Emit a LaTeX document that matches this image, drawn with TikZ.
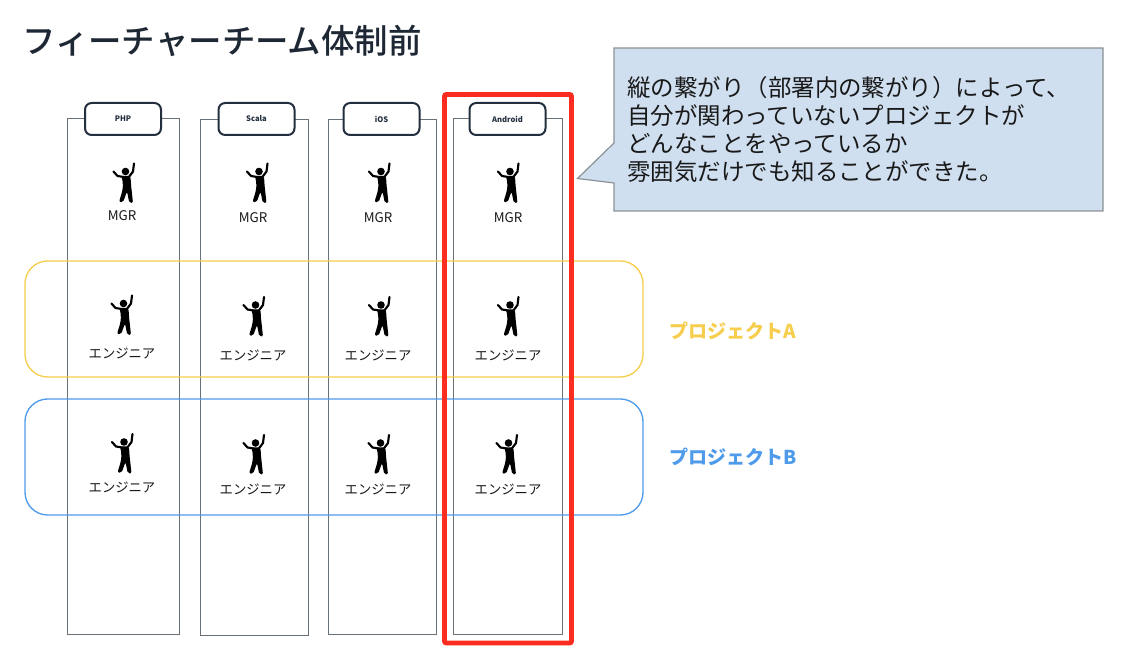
\documentclass[tikz,border=0pt]{standalone}
\usepackage{fontspec}
\setmainfont{Noto Sans CJK JP}
\newfontfamily\titlefont{Noto Sans CJK JP Medium}
\definecolor{navy}{HTML}{232F3E}
\definecolor{colline}{HTML}{687078}
\definecolor{projA}{HTML}{F6CD4C}
\definecolor{projB}{HTML}{4F9BEB}
\definecolor{notefill}{HTML}{CFDFF0}
\definecolor{noteline}{HTML}{8C9196}
\definecolor{alert}{HTML}{FB2C20}
\tikzset{
  dancer/.pic={
    \fill[black] (0,0) circle (3.8);
    \draw[line width=1.6pt,line cap=round,line join=round] (-12,0) -- (-8,4.5) -- (-2,5.5);
    \draw[line width=1.6pt,line cap=round,line join=round] (8.5,-8) -- (7.5,0) -- (3,6);
    \fill[black,rounded corners=1.5] (-4,4.5) -- (5,4.5) -- (5.5,13) -- (7.5,31.5) -- (3.8,31.5)
      -- (1.5,20) -- (-2.5,31) -- (-6.5,30.5) -- (-3,19) -- (-2.5,12) -- cycle;
  }
}
\begin{document}
\begin{tikzpicture}[x=0.75pt,y=-0.75pt,
    column/.style={
      draw=colline,
      line width=0.7pt,
      fill=white
    },
    tab/.style={
      draw=navy,
      line width=1.5pt,
      fill=white,
      rounded corners=5pt,
      minimum width=57pt,
      minimum height=24pt,
      inner sep=0pt,
      text=navy,
      font=\fontsize{5.7}{7}\selectfont\bfseries
    },
    role/.style={
      inner sep=0pt,
      text=black!90,
      font=\fontsize{10}{12}\selectfont
    },
    project/.style={
      line width=1pt,
      rounded corners=17pt
    },
    projlabel/.style={
      inner sep=0pt,
      anchor=west,
      font=\fontsize{14.3}{16}\selectfont\bfseries
    }
    ]
    \useasboundingbox (0,0) rectangle (1122,655);
    \node[anchor=west,inner sep=0pt,text=navy!85!black,font=\fontsize{25.1}{28}\titlefont] (title) at (22,41) {フィーチャーチーム体制前};
    % columns
    \draw[column] (67,118) rectangle (179.5,634);
    \draw[column] (200,119) rectangle (308,635);
    \draw[column] (328,119) rectangle (436,634);
    \draw[column] (453,118) rectangle (562,634);
    \node[tab] (php) at (123,119) {PHP};
    \node[tab] (scala) at (256.5,119) {Scala};
    \node[tab] (ios) at (381.5,119) {iOS};
    \node[tab] (android) at (507.5,119) {Android};
    % projects
    \draw[project,draw=projA] (25,261) rectangle (643,377);
    \draw[project,draw=projB] (25,399) rectangle (643,515);
    \node[projlabel,text=projA] (labelA) at (669,331) {プロジェクトA};
    \node[projlabel,text=projB] (labelB) at (669,457) {プロジェクトB};
    % people
    \pic at (125.5,171.5) {dancer};
    \pic at (259,171.5) {dancer};
    \pic at (381,171.5) {dancer};
    \pic at (510,171.5) {dancer};
    \pic at (123.5,303.5) {dancer};
    \pic at (255.5,305) {dancer};
    \pic at (381,305) {dancer};
    \pic at (510,305) {dancer};
    \pic at (124,442) {dancer};
    \pic at (255.5,443) {dancer};
    \pic at (380.5,443) {dancer};
    \pic at (508.5,443) {dancer};
    \node[role] (mgrA) at (122,216) {MGR};
    \node[role] (mgrB) at (253,218) {MGR};
    \node[role] (mgrC) at (378,218) {MGR};
    \node[role] (mgrD) at (508,218) {MGR};
    \node[role] (engA) at (122,353) {エンジニア};
    \node[role] (engB) at (253,355) {エンジニア};
    \node[role] (engC) at (378,355) {エンジニア};
    \node[role] (engD) at (508,355) {エンジニア};
    \node[role] (engE) at (122,487) {エンジニア};
    \node[role] (engF) at (253,489) {エンジニア};
    \node[role] (engG) at (378,489) {エンジニア};
    \node[role] (engH) at (508,489) {エンジニア};
    % highlight and note
    \draw[draw=alert,line width=3.7pt,rounded corners=1.5pt] (444.5,94.5) rectangle (571.5,643);
    \draw[draw=noteline,fill=notefill,line width=0.9pt] (614,48) -- (1103,48) -- (1103,211) -- (614,211)
      -- (614,183) -- (577.5,178.5) -- (614,143) -- cycle;
    \node[anchor=west,align=left,inner sep=0pt,text=black!90,font=\fontsize{17.6}{21}\selectfont] (note) at (627,129)
      {縦の繋がり（部署内の繋がり）によって、\\自分が関わっていないプロジェクトが\\どんなことをやっているか\\雰囲気だけでも知ることができた。};
  \end{tikzpicture}
\end{document}
